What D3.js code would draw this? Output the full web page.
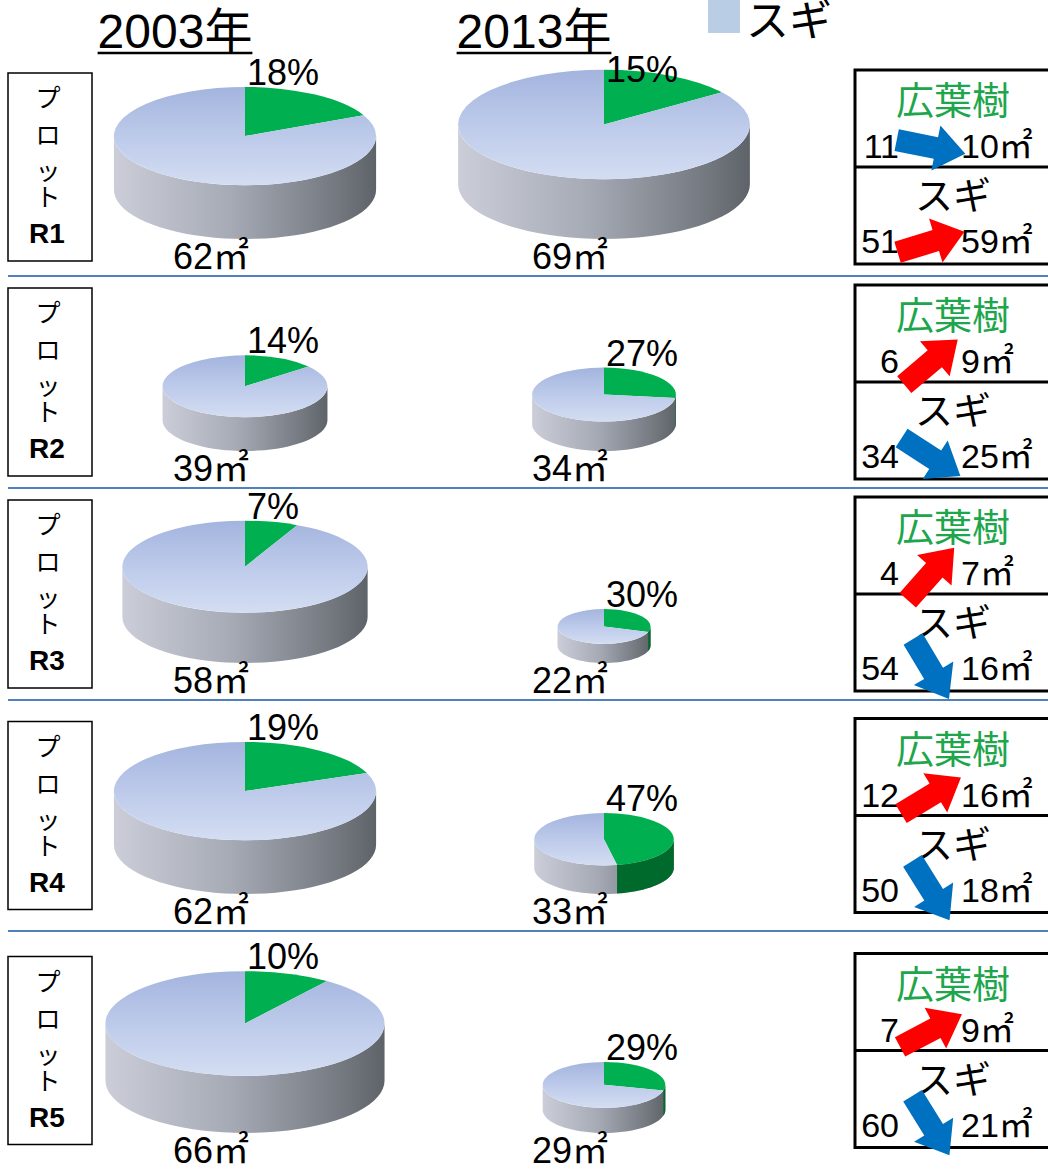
<!DOCTYPE html>
<html>
<head>
<meta charset="utf-8">
<script src="https://cdn.jsdelivr.net/npm/d3@7"></script>
<style>
  body { margin: 0; background: #fff; }
  svg { display: block; font-family: "Liberation Sans", "Noto Sans CJK JP", sans-serif; }
</style>
</head>
<body>
<div id="wrapper"></div>
<script>
// data
const plots = ["R1", "R2", "R3", "R4", "R5"]
const years = ["2003年", "2013年"]
const area2003 = [62, 39, 58, 62, 66]        // total basal area, m2
const area2013 = [69, 34, 22, 33, 29]
const broadShare2003 = [18, 14, 7, 19, 10]   // broadleaf share, %
const broadShare2013 = [15, 27, 30, 47, 29]
const broad2003 = [11, 6, 4, 12, 7]
const broad2013 = [10, 9, 7, 16, 9]
const sugi2003 = [51, 34, 54, 50, 60]
const sugi2013 = [59, 25, 16, 18, 21]

// layout
const width = 1048, height = 1170
const rowTop = 58
const rowHeights = [218, 212, 212, 231, 239]
const rowEdges = [rowTop, ...Array.from(d3.cumsum(rowHeights), d => d + rowTop)]

const colors = {
  green: "#00b050",
  greenSide: "#006a2c",
  sugi: "#b9cde5",
  line: "#4f81bd",
  broadText: "#1ea64c",
  up: "#ff0000",
  down: "#0070c0",
}

const svg = d3.select("#wrapper")
  .append("svg")
    .attr("width", width)
    .attr("height", height)

const defs = svg.append("defs")
const topGrad = defs.append("linearGradient")
    .attr("id", "topGrad")
    .attr("x1", 0).attr("y1", 0).attr("x2", 0).attr("y2", 1)
topGrad.append("stop").attr("offset", 0).attr("stop-color", "#a3b4de")
topGrad.append("stop").attr("offset", 0.55).attr("stop-color", "#bfcceb")
topGrad.append("stop").attr("offset", 1).attr("stop-color", "#d3ddf2")

const sideGrad = defs.append("linearGradient")
    .attr("id", "sideGrad")
    .attr("x1", 0).attr("y1", 0).attr("x2", 1).attr("y2", 0)
sideGrad.append("stop").attr("offset", 0).attr("stop-color", "#cbced9")
sideGrad.append("stop").attr("offset", 0.45).attr("stop-color", "#a6aab5")
sideGrad.append("stop").attr("offset", 0.85).attr("stop-color", "#74787f")
sideGrad.append("stop").attr("offset", 1).attr("stop-color", "#5e6269")

// scales
const colX = d3.scalePoint().domain(years).range([245, 604])
const rScale = d3.scaleLinear().domain([0, 70]).range([0, 148])
const tilt = d3.scaleLinear().domain([-1, 1]).range([60, -60])

const pie = d3.pie().sort(null).value(d => d)
const line = d3.line()

function sidePath(a0, a1, rx, ry, depth) {
  const n = 40
  const angles = d3.range(n + 1).map(i => a0 + (a1 - a0) * i / n)
  const upper = angles.map(a => [rx * Math.sin(a), -ry * Math.cos(a)])
  const lower = angles.slice().reverse().map(a => [rx * Math.sin(a), -ry * Math.cos(a) + depth])
  return line(upper.concat(lower)) + "Z"
}

function drawPie(g, cx, bottom, rowStart, area, share) {
  const rx = rScale(area)
  const ry = rx * 0.375
  const depth = rx * 0.41
  const cy = bottom - ry - depth
  const slices = pie([share, 100 - share])

  const p = g.append("g").attr("transform", `translate(${cx},${cy})`)

  // side wall, front half only
  p.append("path")
    .attr("d", sidePath(Math.PI / 2, Math.PI * 1.5, rx, ry, depth))
    .attr("fill", "url(#sideGrad)")

  const s = slices[0]
  if (s.endAngle > Math.PI / 2) {
    p.append("path")
      .attr("d", sidePath(Math.PI / 2, Math.min(s.endAngle, Math.PI * 1.5), rx, ry, depth))
      .attr("fill", colors.greenSide)
  }

  // top face
  p.append("g")
    .attr("transform", `scale(1,${ry / rx})`)
    .selectAll("path")
    .data(slices)
    .join("path")
      .attr("d", d3.arc().innerRadius(0).outerRadius(rx))
      .attr("fill", (d, i) => i === 0 ? colors.green : "url(#topGrad)")

  // keep the share label inside its own row
  g.append("text")
    .attr("x", cx + 2)
    .attr("y", Math.max(cy - ry - 2, rowStart + 24))
    .attr("font-size", 36)
    .text(`${share}%`)
}

function drawArrow(g, x, y, before, after) {
  const angle = tilt(Math.tanh(2 * Math.log(after / before)))
  const shape = [[-35, -11], [5, -11], [5, -23], [35, 0], [5, 23], [5, 11], [-35, 11]]
  g.append("path")
    .attr("transform", `translate(${x},${y}) rotate(${angle})`)
    .attr("d", line(shape) + "Z")
    .attr("fill", after > before ? colors.up : colors.down)
}

// header
years.forEach(y => {
  const t = svg.append("text")
    .attr("x", colX(y) - 70)
    .attr("y", 48)
    .attr("font-size", 48)
    .attr("text-anchor", "middle")
    .text(y)
  const bb = t.node().getBBox()
  svg.append("line")
    .attr("x1", bb.x).attr("x2", bb.x + bb.width)
    .attr("y1", 53).attr("y2", 53)
    .attr("stroke", "#000").attr("stroke-width", 2.5)
})

// legend
svg.append("rect")
  .attr("x", 708).attr("y", -4)
  .attr("width", 32).attr("height", 37)
  .attr("fill", colors.sugi)
svg.append("text")
  .attr("x", 746).attr("y", 36)
  .attr("font-size", 43)
  .text("スギ")

// separators
svg.selectAll(".sep")
  .data(rowEdges.slice(1, -1))
  .join("line")
    .attr("class", "sep")
    .attr("x1", 8).attr("x2", width)
    .attr("y1", d => d).attr("y2", d => d)
    .attr("stroke", colors.line)
    .attr("stroke-width", 2)

const rows = svg.selectAll(".row")
  .data(plots)
  .join("g")
    .attr("class", "row")

rows.each(function(plot, i) {
  const g = d3.select(this)
  const top = rowEdges[i], bottom = rowEdges[i + 1]
  const mid = (top + bottom) / 2

  // plot label box
  const boxTop = mid - 94
  g.append("rect")
    .attr("x", 8).attr("y", boxTop)
    .attr("width", 84).attr("height", 188)
    .attr("fill", "none").attr("stroke", "#000").attr("stroke-width", 1.5)
  const chars = ["プ", "ロ", "ッ", "ト"]
  const charY = [25, 62, 98, 124]
  chars.forEach((c, k) => {
    g.append("text")
      .attr("x", 48).attr("y", boxTop + charY[k] + 9)
      .attr("font-size", 25)
      .attr("text-anchor", "middle")
      .text(c)
  })
  g.append("text")
    .attr("x", 47).attr("y", boxTop + 170)
    .attr("font-size", 28).attr("font-weight", "bold")
    .attr("text-anchor", "middle")
    .text(plot)

  // pies
  const pieBottom = bottom - 37
  drawPie(g, colX(years[0]), pieBottom, top, area2003[i], broadShare2003[i])
  drawPie(g, colX(years[1]), pieBottom, top, area2013[i], broadShare2013[i])
  ;[area2003[i], area2013[i]].forEach((a, k) => {
    g.append("text")
      .attr("x", colX(years[k]) + 4)
      .attr("y", bottom - 7)
      .attr("font-size", 36)
      .attr("text-anchor", "end")
      .text(`${a}㎡`)
  })

  // change box
  const T = mid - 97
  g.append("rect")
    .attr("x", 855).attr("y", T)
    .attr("width", 200).attr("height", 194)
    .attr("fill", "none").attr("stroke", "#000").attr("stroke-width", 3)
  g.append("line")
    .attr("x1", 855).attr("x2", width)
    .attr("y1", T + 97).attr("y2", T + 97)
    .attr("stroke", "#000").attr("stroke-width", 3)

  const groups = [
    { name: "広葉樹", color: colors.broadText, before: broad2003[i], after: broad2013[i], off: 0 },
    { name: "スギ", color: "#000", before: sugi2003[i], after: sugi2013[i], off: 95 },
  ]
  groups.forEach(s => {
    g.append("text")
      .attr("x", 953).attr("y", T + s.off + 44)
      .attr("font-size", 38)
      .attr("text-anchor", "middle")
      .attr("fill", s.color)
      .text(s.name)
    const base = T + s.off + 88
    g.append("text")
      .attr("x", 899).attr("y", base)
      .attr("font-size", 34)
      .attr("text-anchor", "end")
      .text(s.before)
    g.append("text")
      .attr("x", 961).attr("y", base)
      .attr("font-size", 34)
      .text(`${s.after}㎡`)
    drawArrow(g, 931, base - 11, s.before, s.after)
  })
})
</script>
</body>
</html>
